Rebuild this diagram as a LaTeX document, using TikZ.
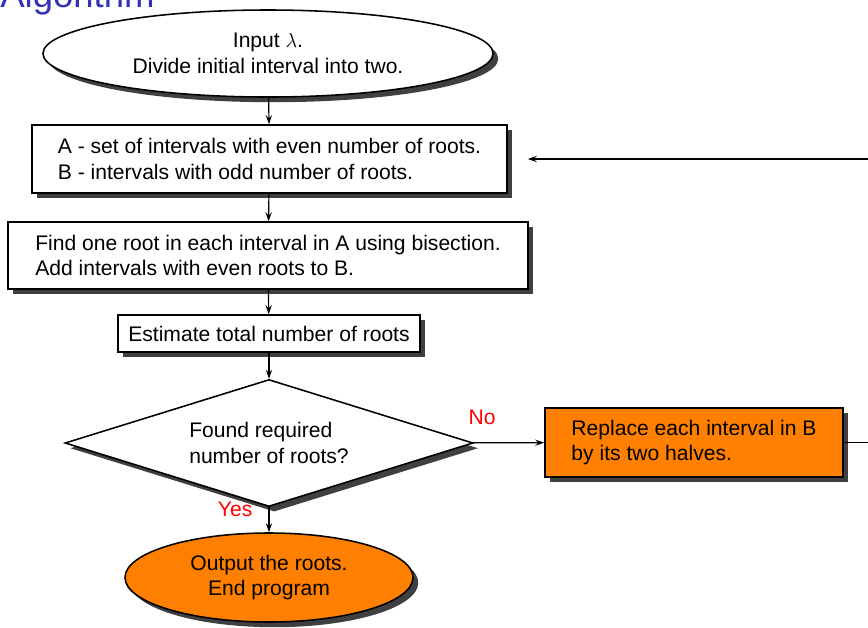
\documentclass[tikz,border=0pt]{standalone}
\usepackage{fontspec}
\setmainfont{Liberation Sans}
\usetikzlibrary{shapes.geometric,shadows,positioning,arrows.meta}
\definecolor{titleblue}{RGB}{51,51,179}
\definecolor{boxorange}{RGB}{255,128,0}
\definecolor{shadowgray}{RGB}{64,64,64}

\begin{document}
\begin{tikzpicture}[x=0.025cm, y=-0.025cm,
  font=\fontsize{15pt}{18.2pt}\selectfont,
  >={Stealth[length=6.5pt,width=4.5pt,inset=2.5pt]},
  shadowed/.style={drop shadow={shadow xshift=0.13cm, shadow yshift=-0.13cm, fill=shadowgray, opacity=1}},
  block/.style={rectangle, draw, line width=1.1pt, fill=white, align=left, inner sep=0pt, shadowed},
  term/.style={ellipse, draw, line width=1.1pt, fill=white, align=center, inner sep=0pt, shadowed},
  decision/.style={diamond, aspect=3.2, draw, line width=1.1pt, fill=white, align=left, inner sep=0pt, shadowed},
  link/.style={->, line width=0.85pt},
  answer/.style={text=red, inner sep=0pt}]

\useasboundingbox (0,0) rectangle (868,627);
\clip (0,0) rectangle (868,627);

% Frame title (cut off at the top)
\node[anchor=base west, inner sep=0pt, text=titleblue, font=\fontsize{26pt}{30pt}\selectfont] (title) at (0,7) {Algorithm};

% Start
\node[term, minimum width=11.25cm, minimum height=2.175cm] (start) at (268,53.5) {Input $\lambda$.\\Divide initial interval into two.};

% Sets of intervals
\node[block, minimum width=11.875cm, minimum height=1.7cm] (sets) at (269.5,159) {A - set of intervals with even number of roots.\\B - intervals with odd number of roots.};

% Bisection step
\node[block, minimum width=13cm, minimum height=1.675cm] (bisect) at (268,255.5) {Find one root in each interval in A using bisection.\\Add intervals with even roots to B.};

% Estimate
\node[block, minimum width=7.55cm, minimum height=0.925cm] (estimate) at (269,333.5) {Estimate total number of roots};

% Decision
\node[decision, minimum width=10.2cm, minimum height=3.175cm] (found) at (269,443) {Found required\\number of roots?};

% Refine intervals
\node[block, fill=boxorange, minimum width=7.45cm, minimum height=1.725cm] (halves) at (694,442.5) {Replace each interval in B\\by its two halves.};

% End
\node[term, fill=boxorange, minimum width=7.2cm, minimum height=2.225cm] (stop) at (269,577.5) {Output the roots.\\End program};

% Connectors
\draw[link] (start) -- (sets);
\draw[link] (sets) -- (bisect);
\draw[link] (bisect) -- (estimate);
\draw[link] (estimate) -- (found);
\draw[link] (found) -- (stop) node[answer, pos=0, anchor=north east, xshift=-0.4cm, yshift=0.15cm] {Yes};
\draw[link] (found) -- (halves) node[answer, pos=0, anchor=south west, xshift=-0.125cm, yshift=0.425cm] {No};

% Loop back (turns outside the frame)
\coordinate (turn) at (920,442.5);
\draw[link, shorten >=0.5cm] (halves) -- (turn) |- (sets);

\end{tikzpicture}
\end{document}
